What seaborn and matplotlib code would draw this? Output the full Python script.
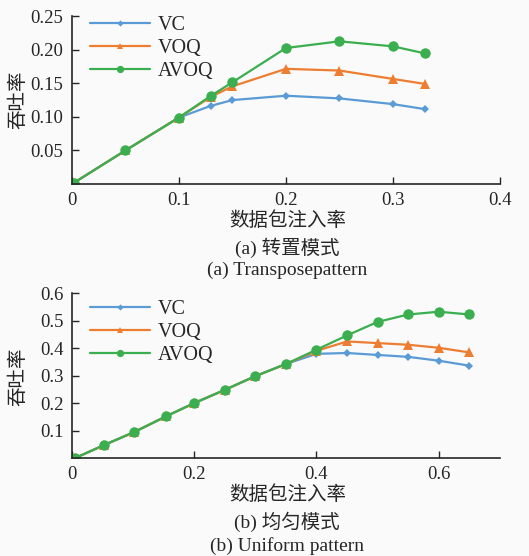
#!/usr/bin/env python3
"""吞吐率对比图（转置模式 / 均匀模式）"""

import matplotlib
matplotlib.use("Agg")
import matplotlib.pyplot as plt
import numpy as np
import pandas as pd
import seaborn as sns

# ---- data ----
series_names = ["VC", "VOQ", "AVOQ"]

# (a) 转置模式
rate_a = [0.002, 0.05, 0.10, 0.13, 0.15, 0.20, 0.25, 0.30, 0.33]
vc_a = [0.002, 0.050, 0.099, 0.1165, 0.125, 0.1315, 0.1275, 0.119, 0.1115]
voq_a = [0.002, 0.050, 0.099, 0.130, 0.1455, 0.1715, 0.169, 0.1565, 0.149]
avoq_a = [0.002, 0.050, 0.099, 0.1315, 0.1515, 0.2025, 0.2125, 0.205, 0.1945]

# (b) 均匀模式
rate_b = [0.005, 0.053, 0.102, 0.154, 0.20, 0.25, 0.30, 0.35, 0.40,
          0.45, 0.50, 0.55, 0.60, 0.65]
vc_b = [0.0, 0.048, 0.095, 0.152, 0.200, 0.248, 0.298, 0.342, 0.379,
        0.382, 0.375, 0.368, 0.354, 0.336]
voq_b = [0.0, 0.048, 0.095, 0.152, 0.200, 0.248, 0.298, 0.342, 0.390,
         0.424, 0.418, 0.412, 0.401, 0.384]
avoq_b = [0.0, 0.048, 0.095, 0.152, 0.200, 0.248, 0.298, 0.342, 0.394,
          0.446, 0.495, 0.522, 0.532, 0.522]

colors = {"VC": "#5B9BD5", "VOQ": "#ED7D31", "AVOQ": "#3BAF4F"}
markers = {"VC": "D", "VOQ": "^", "AVOQ": "o"}
msize = {"VC": 4.5, "VOQ": 7, "AVOQ": 7.5}

sns.set_style("ticks")
plt.rcParams["font.family"] = ["Liberation Serif", "Noto Sans CJK SC", "DejaVu Sans"]
plt.rcParams["axes.unicode_minus"] = False


def to_long(x, ys):
    frames = []
    for name, y in zip(series_names, ys):
        frames.append(pd.DataFrame({"rate": x, "thr": y, "scheme": name}))
    return pd.concat(frames, ignore_index=True)


def draw(ax, df, xlim, ylim, xticks, yticks, xfmt, yfmt, leg_y):
    for name in series_names:
        sub = df[df["scheme"] == name]
        sns.lineplot(data=sub, x="rate", y="thr", ax=ax, color=colors[name],
                     marker=markers[name], markersize=msize[name],
                     markeredgewidth=0, linewidth=1.6, label=name)
    ax.set_xlim(*xlim)
    ax.set_ylim(*ylim)
    ax.set_xticks(xticks)
    ax.set_xticklabels([xfmt(v) for v in xticks])
    ax.set_yticks(yticks)
    ax.set_yticklabels([yfmt(v) for v in yticks])
    ax.tick_params(direction="in", length=5, width=1, labelsize=13.5, pad=6)
    for s in ["top", "right"]:
        ax.spines[s].set_visible(False)
    for s in ["left", "bottom"]:
        ax.spines[s].set_linewidth(1.2)
    ax.set_xlabel("")
    ax.set_ylabel("")
    ax.set_facecolor("none")
    leg = ax.legend(loc="upper left", bbox_to_anchor=(0.0, leg_y), frameon=False,
                    fontsize=14.5, handlelength=3.0, labelspacing=0.2,
                    handletextpad=0.35, markerscale=0.7)
    return leg


fig = plt.figure(figsize=(5.29, 5.56), dpi=100)
fig.patch.set_facecolor("#FAFAFA")

ax1 = fig.add_axes([0.136, 0.669, 0.809, 0.302])
draw(ax1, to_long(rate_a, [vc_a, voq_a, avoq_a]), (0, 0.4), (0, 0.25),
     [0, 0.1, 0.2, 0.3, 0.4], [0.05, 0.10, 0.15, 0.20, 0.25],
     lambda v: "0" if v == 0 else f"{v:.1f}", lambda v: f"{v:.2f}", 1.11)

ax2 = fig.add_axes([0.136, 0.176, 0.809, 0.297])
draw(ax2, to_long(rate_b, [vc_b, voq_b, avoq_b]), (0, 0.7), (0, 0.6),
     [0, 0.2, 0.4, 0.6], [0.1, 0.2, 0.3, 0.4, 0.5, 0.6],
     lambda v: "0" if v == 0 else f"{v:.1f}", lambda v: f"{v:.1f}", 1.07)

cx = 0.543
fs = 14
fig.text(cx, 0.604, "数据包注入率", ha="center", va="center", fontsize=fs)
fig.text(cx, 0.554, "(a) 转置模式", ha="center", va="center", fontsize=fs)
fig.text(cx, 0.513, "(a) Transposepattern", ha="center", va="center", fontsize=fs)
fig.text(cx, 0.110, "数据包注入率", ha="center", va="center", fontsize=fs)
fig.text(cx, 0.061, "(b) 均匀模式", ha="center", va="center", fontsize=fs)
fig.text(cx, 0.018, "(b) Uniform pattern", ha="center", va="center", fontsize=fs)
fig.text(0.034, 0.820, "吞吐率", rotation=90, ha="center", va="center", fontsize=fs)
fig.text(0.034, 0.322, "吞吐率", rotation=90, ha="center", va="center", fontsize=fs)

fig.savefig("out.png", dpi=100, facecolor=fig.get_facecolor())
